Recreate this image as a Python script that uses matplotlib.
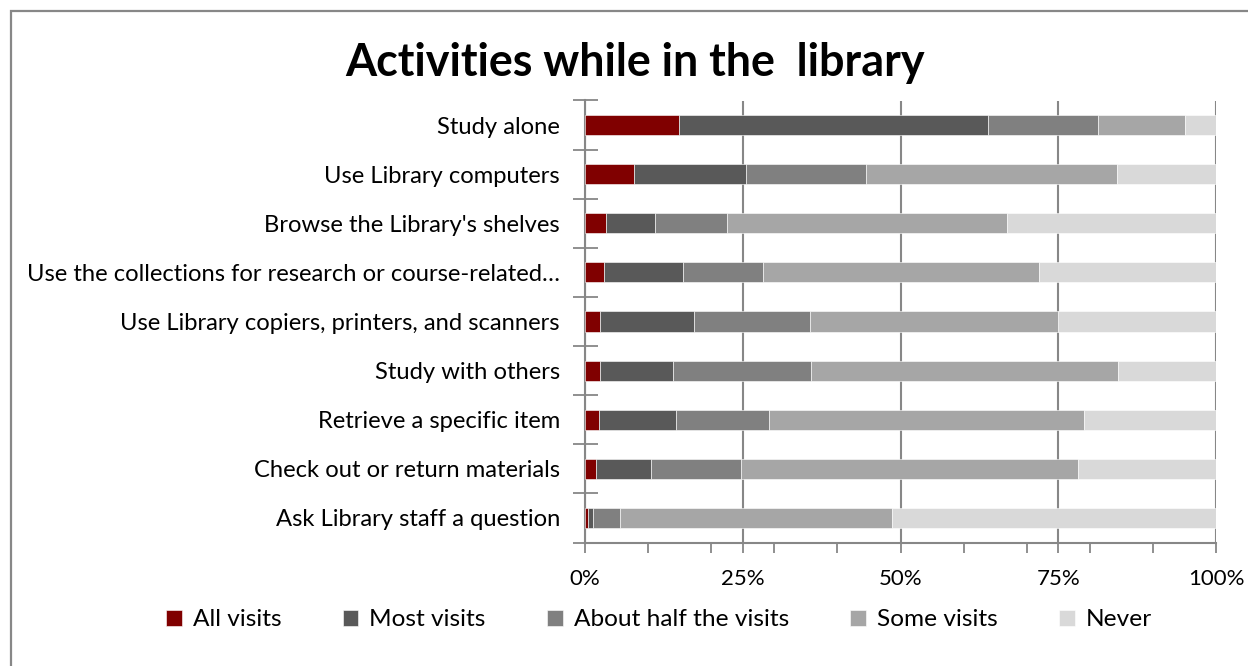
import matplotlib
matplotlib.use("Agg")
import matplotlib.pyplot as plt
from matplotlib.patches import Rectangle
import numpy as np

plt.rcParams['font.family'] = ['Lato', 'DejaVu Sans']

categories = [
    "Study alone",
    "Use Library computers",
    "Browse the Library's shelves",
    "Use the collections for research or course-related\u2026",
    "Use Library copiers, printers, and scanners",
    "Study with others",
    "Retrieve a specific item",
    "Check out or return materials",
    "Ask Library staff a question",
]
series_names = ["All visits", "Most visits", "About half the visits", "Some visits", "Never"]
all_visits = [14.9, 7.8, 3.3, 3.0, 2.4, 2.4, 2.2, 1.7, 0.5]
most_visits = [49.0, 17.7, 7.8, 12.5, 14.9, 11.5, 12.2, 8.8, 0.8]
half_visits = [17.4, 19.0, 11.4, 12.7, 18.4, 21.9, 14.8, 14.2, 4.2]
some_visits = [13.8, 39.8, 44.4, 43.7, 39.3, 48.7, 49.9, 53.4, 43.2]
never = [4.9, 15.7, 33.1, 28.1, 25.0, 15.5, 20.9, 21.9, 51.3]
colors = ["#800000", "#595959", "#808080", "#a6a6a6", "#d9d9d9"]
x_major = [0, 25, 50, 75, 100]
x_major_labels = ["0%", "25%", "50%", "75%", "100%"]

W, H = 1248, 666
fig = plt.figure(figsize=(W / 100, H / 100), dpi=100)

# outer chart border
fig.patches.append(Rectangle((11 / W, -0.05), 1.2, (H - 11) / H + 0.05,
                             transform=fig.transFigure, fill=False,
                             edgecolor="#878787", linewidth=1.6))

left, right, top, bottom = 585, 1216, 100.5, 542.5
ax = fig.add_axes([left / W, 1 - bottom / H, (right - left) / W, (bottom - top) / H])

data = [all_visits, most_visits, half_visits, some_visits, never]
y = np.arange(len(categories))
cum = np.zeros(len(categories))
for name, vals, c in zip(series_names, data, colors):
    vals = np.array(vals)
    ax.barh(y, vals, left=cum, height=0.41, color=c, label=name,
            edgecolor="white", linewidth=0.4, zorder=3)
    cum += vals

ax.set_xlim(0, 100)
ax.set_ylim(len(categories) - 0.5, -0.5)

ax.set_xticks(x_major)
ax.set_xticklabels(x_major_labels)
ax.set_xticks(np.arange(0, 101, 10), minor=True)
ax.tick_params(axis="x", which="both", direction="out", length=7, width=1.3,
               color="#878787", labelsize=16, pad=12)
ax.xaxis.grid(True, which="major", color="#878787", linewidth=1.5, zorder=0)

ax.set_yticks(y)
ax.set_yticklabels(categories)
ax.set_yticks(np.arange(-0.5, len(categories)), minor=True)
ax.tick_params(axis="y", which="major", length=0, labelsize=17.1, pad=18)
ax.tick_params(axis="y", which="minor", direction="inout", length=18, width=1.3,
               color="#878787")

for s in ["top", "right"]:
    ax.spines[s].set_visible(False)
for s in ["left", "bottom"]:
    ax.spines[s].set_color("#878787")
    ax.spines[s].set_linewidth(1.5)

fig.text(635 / W, 1 - 63 / H, "Activities while in the  library", ha="center",
         va="center", fontsize=32.3, fontweight="bold")

fig.legend(loc="center", bbox_to_anchor=(659 / W, 1 - 620 / H), ncol=5,
           frameon=False, fontsize=17.6, handlelength=0.65, handleheight=0.65,
           handletextpad=0.45, columnspacing=2.5)

fig.savefig("out.png", dpi=100)
